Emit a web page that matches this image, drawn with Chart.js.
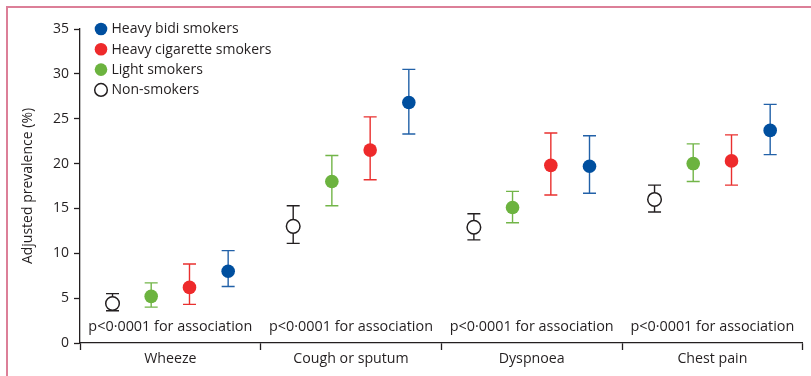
<!DOCTYPE html>
<html>
<head>
<meta charset="utf-8">
<script src="https://cdn.jsdelivr.net/npm/chart.js@4.4.0/dist/chart.umd.min.js"></script>
<style>
  html, body { margin: 0; padding: 0; background: #fff; }
  #wrap { width: 811px; height: 376px; }
</style>
</head>
<body>
<div id="wrap"><canvas id="chart" width="811" height="376"></canvas></div>
<script>
// symptoms on the x axis
const symptoms = ['Wheeze', 'Cough or sputum', 'Dyspnoea', 'Chest pain'];
const pLabels = ['p<0·0001 for association', 'p<0·0001 for association', 'p<0·0001 for association', 'p<0·0001 for association'];

// adjusted prevalence (%) with 95% CI, one value per symptom
const nonSmokers = [4.4, 13.0, 12.9, 16.0];
const nonSmokersLow = [3.6, 11.1, 11.5, 14.6];
const nonSmokersHigh = [5.5, 15.3, 14.4, 17.6];

const lightSmokers = [5.2, 18.0, 15.1, 20.0];
const lightSmokersLow = [4.0, 15.3, 13.4, 18.0];
const lightSmokersHigh = [6.7, 20.9, 16.9, 22.2];

const cigSmokers = [6.2, 21.5, 19.8, 20.3];
const cigSmokersLow = [4.3, 18.2, 16.5, 17.6];
const cigSmokersHigh = [8.8, 25.2, 23.4, 23.2];

const bidiSmokers = [8.0, 26.8, 19.7, 23.7];
const bidiSmokersLow = [6.3, 23.3, 16.7, 21.0];
const bidiSmokersHigh = [10.3, 30.5, 23.1, 26.6];

const yTicks = [0, 5, 10, 15, 20, 25, 30, 35];

const ink = '#231f20';
const FONT = '"Open Sans"';

// group offset inside each symptom column (in column widths)
function series(label, values, low, high, offset, color, fill) {
  return {
    label: label,
    data: values.map((v, i) => ({ x: i + 0.5 + offset, y: v, lo: low[i], hi: high[i] })),
    borderColor: color,
    backgroundColor: fill,
    pointRadius: 6.8,
    pointBorderWidth: fill === '#ffffff' ? 1.5 : 0,
    barColor: color
  };
}

const datasets = [
  series('Non-smokers', nonSmokers, nonSmokersLow, nonSmokersHigh, -0.32, ink, '#ffffff'),
  series('Light smokers', lightSmokers, lightSmokersLow, lightSmokersHigh, -0.106, '#72b548', '#6cb33f'),
  series('Heavy cigarette smokers', cigSmokers, cigSmokersLow, cigSmokersHigh, 0.106, '#e9302f', '#ee2a2b'),
  series('Heavy bidi smokers', bidiSmokers, bidiSmokersLow, bidiSmokersHigh, 0.32, '#2261a8', '#004f9f')
];

// CI whiskers behind the points
const errorBars = {
  id: 'errorBars',
  beforeDatasetsDraw(chart) {
    const ctx = chart.ctx;
    const xs = chart.scales.x, ys = chart.scales.y;
    ctx.save();
    chart.data.datasets.forEach(ds => {
      ctx.strokeStyle = ds.barColor;
      ctx.lineWidth = 1.4;
      ds.data.forEach(p => {
        const x = xs.getPixelForValue(p.x);
        const yl = ys.getPixelForValue(p.lo);
        const yh = ys.getPixelForValue(p.hi);
        ctx.beginPath();
        ctx.moveTo(x, yl); ctx.lineTo(x, yh);
        ctx.moveTo(x - 6.5, yl); ctx.lineTo(x + 6.5, yl);
        ctx.moveTo(x - 6.5, yh); ctx.lineTo(x + 6.5, yh);
        ctx.stroke();
      });
    });
    ctx.restore();
  }
};

// legend block, p-value notes and the pink frame
const extras = {
  id: 'extras',
  beforeDraw(chart) {
    const ctx = chart.ctx;
    ctx.save();
    ctx.strokeStyle = '#dc7f98';
    ctx.lineWidth = 2;
    ctx.beginPath();
    ctx.moveTo(7, chart.height);
    ctx.lineTo(7, 7);
    ctx.lineTo(chart.width, 7);
    ctx.stroke();
    ctx.restore();
  },
  afterDraw(chart) {
    const ctx = chart.ctx;
    const area = chart.chartArea;
    const xs = chart.scales.x, ys = chart.scales.y;
    ctx.save();
    ctx.fillStyle = ink;
    ctx.textAlign = 'center';
    ctx.textBaseline = 'middle';
    ctx.font = '14.4px ' + FONT;
    pLabels.forEach((t, i) => {
      ctx.fillText(t, xs.getPixelForValue(i + 0.5), ys.getPixelForValue(1.8));
    });

    const order = [3, 2, 1, 0];
    ctx.textAlign = 'left';
    ctx.font = '14px ' + FONT;
    order.forEach((k, row) => {
      const ds = chart.data.datasets[k];
      const cx = area.left + 21;
      const cy = area.top + row * 20.3;
      ctx.beginPath();
      ctx.arc(cx, cy, 6.3, 0, Math.PI * 2);
      ctx.fillStyle = ds.backgroundColor;
      ctx.fill();
      if (ds.pointBorderWidth) {
        ctx.lineWidth = 1.5;
        ctx.strokeStyle = ink;
        ctx.stroke();
      }
      ctx.fillStyle = ink;
      ctx.fillText(ds.label, cx + 10.5, cy + 0.5);
    });
    ctx.restore();
  }
};

new Chart(document.getElementById('chart'), {
  type: 'scatter',
  data: { datasets: datasets },
  plugins: [errorBars, extras],
  options: {
    responsive: false,
    animation: false,
    events: [],
    layout: { padding: { top: 29, right: 6, left: 0, bottom: 0 } },
    plugins: { legend: { display: false }, tooltip: { enabled: false } },
    elements: { point: { hoverRadius: 6.8 } },
    scales: {
      x: {
        type: 'linear',
        min: 0,
        max: symptoms.length,
        afterBuildTicks: (scale) => {
          const t = [];
          for (let v = 0; v <= symptoms.length; v += 0.5) t.push({ value: v });
          scale.ticks = t;
        },
        afterFit: (scale) => { scale.height = 33; },
        ticks: {
          autoSkip: false,
          maxRotation: 0,
          padding: 0,
          color: ink,
          font: { family: FONT, size: 14.2 },
          callback: (v) => Number.isInteger(v) ? '' : symptoms[Math.floor(v)]
        },
        grid: {
          drawOnChartArea: false,
          tickLength: 7,
          tickWidth: 1.3,
          tickColor: (c) => (c.tick && Number.isInteger(c.tick.value)) ? ink : 'rgba(0,0,0,0)'
        },
        border: { color: ink, width: 1.3 }
      },
      y: {
        min: 0,
        max: 35,
        afterBuildTicks: (scale) => { scale.ticks = yTicks.map(v => ({ value: v })); },
        afterFit: (scale) => { scale.width = 80; },
        ticks: {
          padding: 5,
          color: ink,
          font: { family: FONT, size: 14 }
        },
        grid: { drawOnChartArea: false, tickLength: 6, tickWidth: 1.3, tickColor: ink },
        border: { color: ink, width: 1.3 },
        title: {
          display: true,
          text: 'Adjusted prevalence (%)',
          color: ink,
          font: { family: FONT, size: 14 },
          padding: { top: 20, bottom: 0 }
        }
      }
    }
  }
});
</script>
</body>
</html>
